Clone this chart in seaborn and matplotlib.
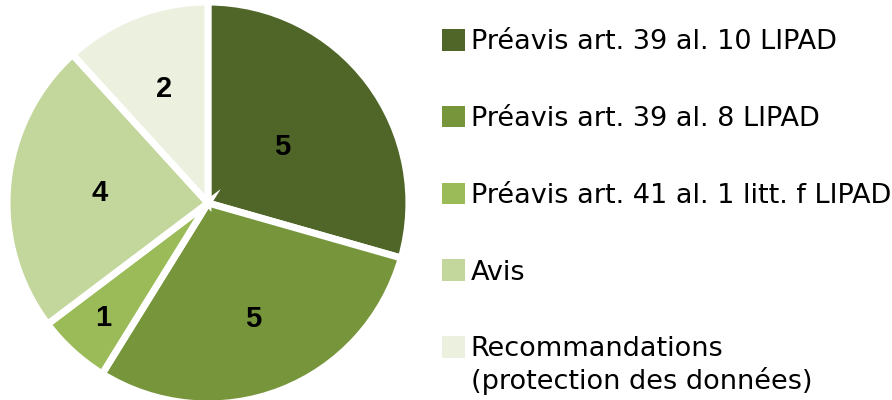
import numpy as np
import matplotlib
matplotlib.use("Agg")
import matplotlib.pyplot as plt
import seaborn as sns

categories = [
    "Préavis art. 39 al. 10 LIPAD",
    "Préavis art. 39 al. 8 LIPAD",
    "Préavis art. 41 al. 1 litt. f LIPAD",
    "Avis",
    "Recommandations\n(protection des données)",
]
counts = [5, 5, 1, 4, 2]
colors = sns.color_palette(["#4F6628", "#77963C", "#9BBB59", "#C3D69B", "#EBF1DE"])
# label distance from centre (fraction of radius), as placed in the original
label_r = [0.47, 0.63, 0.79, 0.55, 0.62]

sns.set_theme(style="white")
plt.rcParams['font.family'] = ['DejaVu Sans']

fig = plt.figure(figsize=(8.92, 4.0), dpi=100)
ax = fig.add_axes([0.0123, 0.0, 0.4417, 0.985])

wedges, _ = ax.pie(
    counts,
    colors=colors,
    startangle=90,
    counterclock=False,
    radius=1.02,
    wedgeprops=dict(edgecolor="white", linewidth=5),
)
ax.set_xlim(-1, 1)
ax.set_ylim(-1, 1)
ax.set_aspect("equal")

for w, n, r in zip(wedges, counts, label_r):
    mid = np.deg2rad((w.theta1 + w.theta2) / 2)
    ax.text(r * np.cos(mid), r * np.sin(mid), str(n),
            ha="center", va="center", fontsize=21, fontweight="bold",
            color="black", family="Liberation Sans")

for w in wedges:
    w.set_clip_on(False)

leg = fig.legend(
    wedges, categories,
    loc="upper left",
    bbox_to_anchor=(0.4686, 0.9885),
    frameon=False,
    fontsize=19.5,
    handlelength=0.85,
    handleheight=0.85,
    handletextpad=0.2,
    labelspacing=1.87,
)
for h in leg.legend_handles:
    h.set_edgecolor("none")
    h.set_linewidth(0)
for t in leg.get_texts():
    t.set_color("black")

# align the marker of the two-line entry with its first line
for col in leg._legend_handle_box.get_children():
    for row in col.get_children():
        if "\n" in row.get_children()[1].get_text():
            row.align = "top"

fig.savefig("out.png", dpi=100)
